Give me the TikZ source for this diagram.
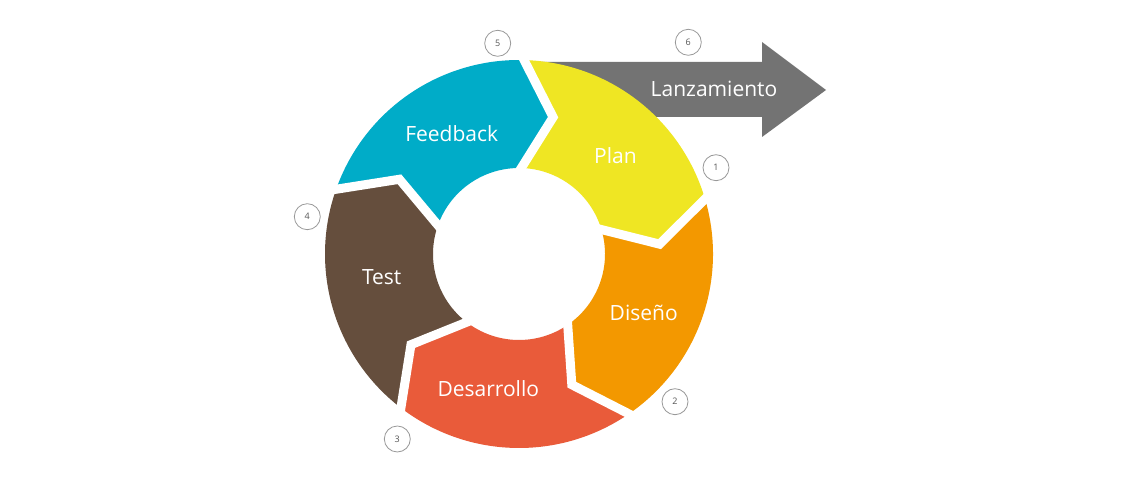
\documentclass[tikz,border=0pt]{standalone}
\usepackage{fontspec}
\setmainfont{Open Sans}
\definecolor{cyellow}{RGB}{239,230,35}
\definecolor{corange}{RGB}{243,152,0}
\definecolor{cred}{RGB}{233,91,58}
\definecolor{cbrown}{RGB}{101,78,61}
\definecolor{cblue}{RGB}{0,172,200}
\definecolor{cgray}{RGB}{115,115,115}
\definecolor{cnum}{RGB}{85,85,85}
\newcommand\ringseg[3]{%
  \fill[#3] (#1:194) arc[start angle=#1, end angle=#2, radius=194pt]
    -- (#2-12.5:141) -- (#2:86) arc[start angle=#2, end angle=#1, radius=86pt]
    -- (#1-12.5:141) -- cycle;}
\begin{document}
\begin{tikzpicture}[x=1pt,y=1pt,
  sep/.style={draw=white,line width=9pt,line cap=rect,line join=miter},
  lbl/.style={text=white,font=\fontsize{21}{25}\selectfont,inner sep=0pt},
  numc/.style={circle,draw=black!40,line width=0.8pt,minimum size=26pt,inner sep=0pt,text=cnum,font=\fontsize{9}{10}\selectfont}]
\useasboundingbox (0,0) rectangle (1140,500);
\fill[white] (0,0) rectangle (1140,500);
% launch arrow
\fill[cgray] (530,438) -- (762,438) -- (762,458) -- (826,410) -- (762,363) -- (762,383) -- (530,383) -- cycle;
\begin{scope}[shift={(519,246)}]
  \ringseg{88.5}{16.5}{cyellow}
  \ringseg{16.5}{-55.5}{corange}
  \ringseg{-55.5}{-127.5}{cred}
  \ringseg{-127.5}{-199.5}{cbrown}
  \ringseg{160.5}{88.5}{cblue}
  \foreach \t in {88.5,16.5,-55.5,-127.5,160.5}
    \draw[sep] (\t:194) -- (\t-12.5:141) -- (\t:86);
\end{scope}
\node[lbl] (lanz) at (714,411) {Lanzamiento};
\node[lbl] (plan) at (615.5,344) {Plan};
\node[lbl] (feed) at (451.7,366.7) {Feedback};
\node[lbl] (test) at (381.7,223.3) {Test};
\node[lbl] (dise) at (643.7,187.3) {Diseño};
\node[lbl] (desa) at (488.3,111.7) {Desarrollo};
\node[numc] (n5) at (497.7,456.7) {5};
\node[numc] (n6) at (688.3,457.7) {6};
\node[numc] (n1) at (716,332.3) {1};
\node[numc] (n2) at (675,98.3) {2};
\node[numc] (n3) at (397.3,61) {3};
\node[numc] (n4) at (307.3,283.3) {4};
\end{tikzpicture}
\end{document}
